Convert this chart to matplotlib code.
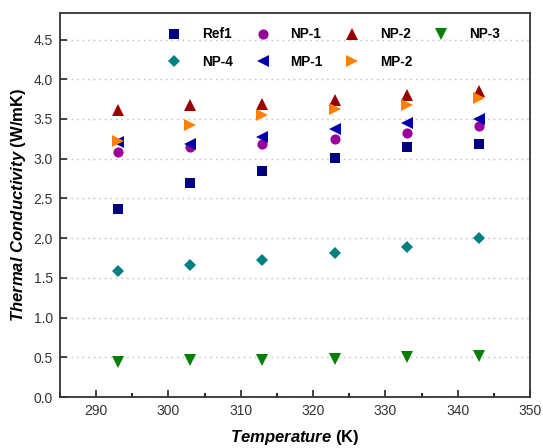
import matplotlib
matplotlib.use("Agg")
import matplotlib.pyplot as plt
from matplotlib.ticker import MultipleLocator

plt.rcParams['font.family'] = ['Liberation Sans', 'DejaVu Sans']
plt.rcParams['mathtext.fontset'] = 'custom'
plt.rcParams['mathtext.it'] = 'Liberation Sans:italic:bold'
plt.rcParams['mathtext.rm'] = 'Liberation Sans:bold'

temps = [293, 303, 313, 323, 333, 343]
ref1 = [2.37, 2.69, 2.84, 3.01, 3.15, 3.19]
np1 = [3.09, 3.15, 3.19, 3.25, 3.32, 3.41]
np2 = [3.61, 3.68, 3.69, 3.74, 3.80, 3.85]
np3 = [0.44, 0.46, 0.47, 0.48, 0.51, 0.52]
np4 = [1.58, 1.66, 1.73, 1.81, 1.89, 2.00]
mp1 = [3.21, 3.19, 3.27, 3.37, 3.45, 3.50]
mp2 = [3.22, 3.43, 3.55, 3.62, 3.68, 3.77]

series = [
    ("Ref1", ref1, 's', '#000080', 6.5),
    ("NP-1", np1, 'o', '#990099', 7.3),
    ("NP-2", np2, '^', '#990000', 8.5),
    ("NP-3", np3, 'v', '#008000', 8.5),
    ("NP-4", np4, 'D', '#008080', 6.5),
    ("MP-1", mp1, '<', '#0000AA', 8.5),
    ("MP-2", mp2, '>', '#FF8000', 8.5),
]

fig = plt.figure(figsize=(5.43, 4.48), dpi=100)
ax = fig.add_axes([0.1105, 0.1138, 0.8655, 0.8565])

handles = {}
for name, vals, m, c, ms in series:
    h, = ax.plot(temps, vals, linestyle='none', marker=m, color=c, markersize=ms,
                 markeredgewidth=0, label=name)
    handles[name] = h

ax.set_xlim(285, 350)
ax.set_ylim(0, 4.83)
ax.xaxis.set_major_locator(MultipleLocator(10))
ax.xaxis.set_minor_locator(MultipleLocator(5))
ax.yaxis.set_major_locator(MultipleLocator(0.5))
ax.yaxis.set_major_formatter(plt.FuncFormatter(lambda v, p: f"{v:.1f}"))
ax.tick_params(axis='both', which='major', direction='in', length=5, width=1.2,
               labelsize=10, colors='#222222', pad=5)
ax.tick_params(axis='x', which='minor', direction='in', length=3, width=1.2)
ax.tick_params(labelcolor='#333333')
for s in ax.spines.values():
    s.set_linewidth(1.3)
    s.set_color('#333333')
ax.grid(axis='y', linestyle=(0, (1, 3)), color='#bbbbbb', linewidth=1)
ax.set_axisbelow(True)

ax.set_xlabel(r"$\mathit{Temperature}$ (K)", fontsize=12, fontweight='bold', labelpad=7)
ax.set_ylabel(r"$\mathit{Thermal\ Conductivity}$ (W/mK)", fontsize=12, fontweight='bold', labelpad=4)

order = ["Ref1", "NP-4", "NP-1", "MP-1", "NP-2", "MP-2", "NP-3"]
leg = ax.legend([handles[n] for n in order], order, ncol=4, frameon=False,
                loc='upper left', bbox_to_anchor=(0.203, 0.995),
                prop={'weight': 'bold', 'size': 9.8}, handletextpad=1.55,
                columnspacing=1.65, labelspacing=1.0, handlelength=1.0)

fig.savefig("out.png", dpi=100)
